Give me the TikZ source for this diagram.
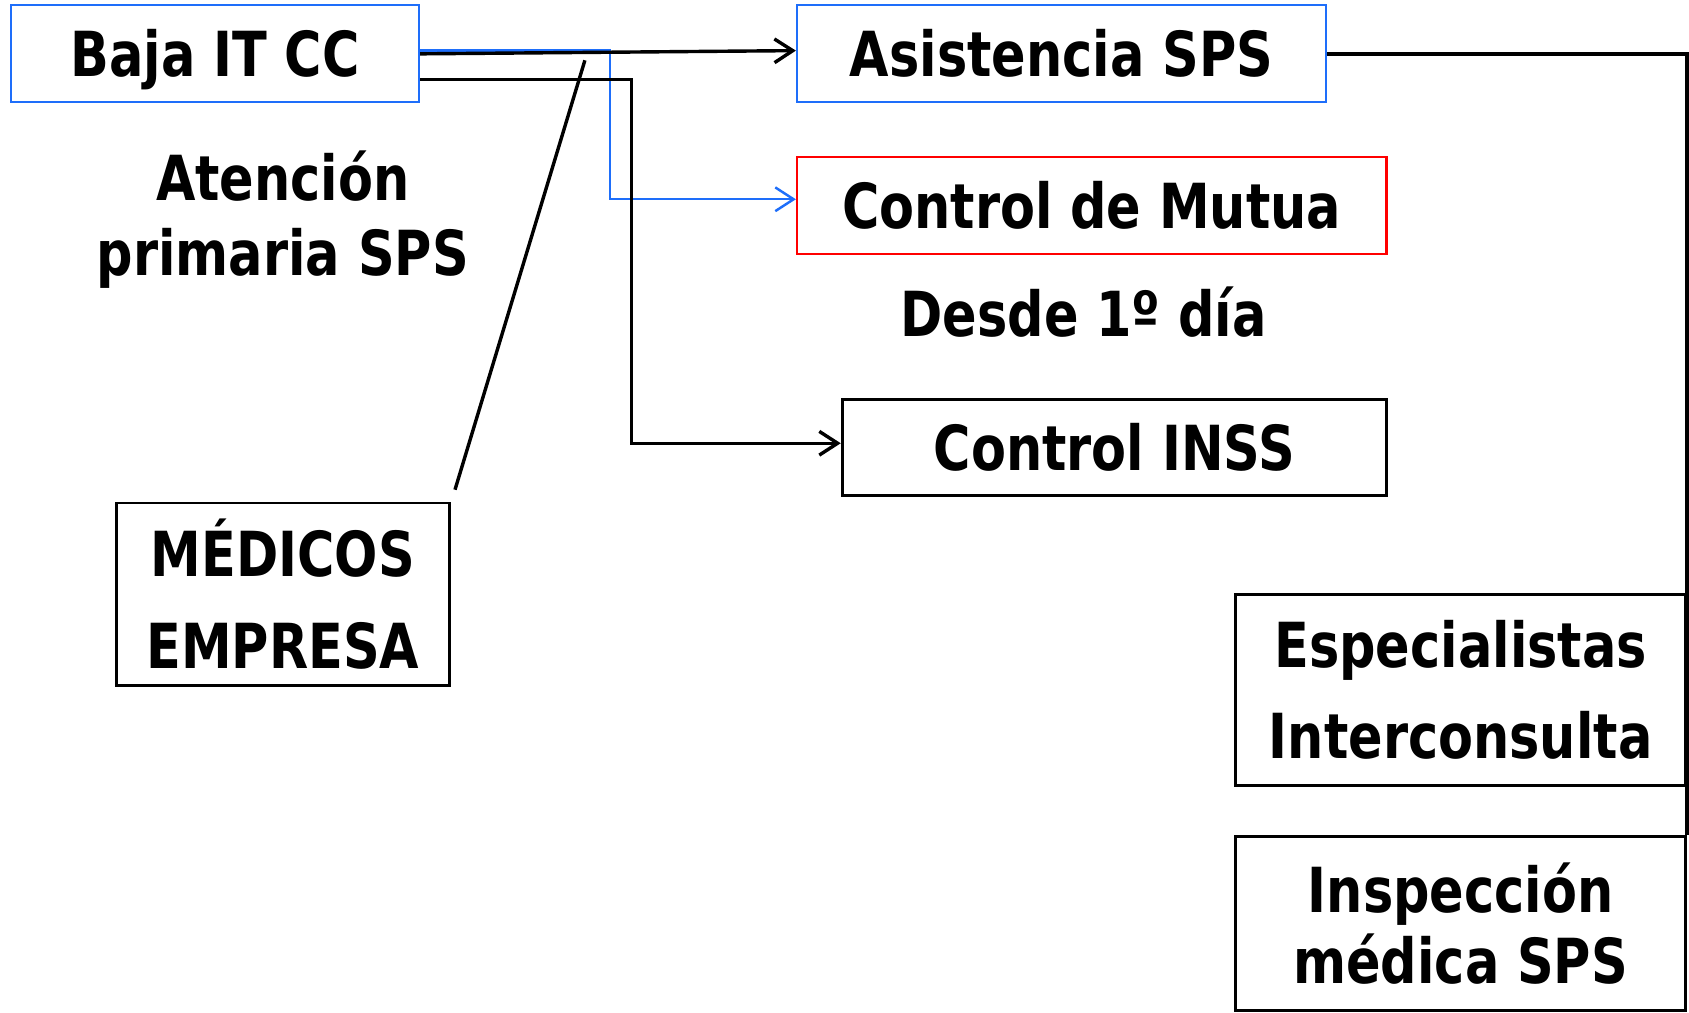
\documentclass[tikz,border=0pt]{standalone}
\usepackage{fontspec}
\newfontfamily\tf{DejaVu Sans}[FakeStretch=0.82]
\usetikzlibrary{arrows.meta,calc}
\definecolor{boxblue}{RGB}{30,110,250}
\definecolor{boxred}{RGB}{255,0,0}
\begin{document}
\begin{tikzpicture}[x=0.01cm,y=-0.01cm,
  txt/.style={font=\tf\bfseries\fontsize{16.4pt}{20pt}\selectfont, inner sep=0pt, align=center, text=black},
  one/.style={txt, text height=12pt, text depth=0pt},
  bluebox/.style={draw=boxblue, line width=0.55pt},
  redbox/.style={draw=boxred, line width=0.55pt},
  blackbox/.style={draw=black, line width=0.75pt},
  conn/.style={draw=black, line width=0.9pt},
  bconn/.style={draw=boxblue, line width=0.65pt},
  tip/.style={-{Straight Barb[length=1.7mm,width=2.2mm]}},
]
\useasboundingbox (0,0) rectangle (1568,940);
\node[one,bluebox,minimum width=3.79cm,minimum height=0.90cm] (baja) at (199.5,50) {Baja IT CC};
\node[one,bluebox,minimum width=4.91cm,minimum height=0.90cm] (asis) at (985.5,50) {Asistencia SPS};
\node[one,redbox,minimum width=5.47cm,minimum height=0.90cm] (mutua) at (1013.5,191) {Control de Mutua};
\node[one] (desde) at (1006,291) {Desde 1º día};
\node[one,blackbox,minimum width=5.05cm,minimum height=0.89cm] (inss) at (1034.5,415.5) {Control INSS};
\node[txt] (aten) at (262.5,204) {Atención\\primaria SPS};
\node[txt,blackbox,minimum width=3.09cm,minimum height=1.69cm] (medicos) at (262.5,551.5) {MÉDICOS\\[4.5pt]EMPRESA};
\node[txt,blackbox,minimum width=4.18cm,minimum height=1.77cm] (espec) at (1356,640.5) {Especialistas\\[4.2pt]Interconsulta};
\node[txt,blackbox,minimum width=4.18cm,minimum height=1.61cm] (inspec) at (1356,857.5) {Inspección\\[-1.2pt]médica SPS};
\draw[bconn,tip] ($(baja.east)+(0,-3)$) -- ++(176,0) |- ($(mutua.west)+(0,-6)$);
\draw[conn,tip] (baja.east) -- ($(asis.west)+(0,-3)$);
\draw[conn,tip] ($(baja.east)+(0,24)$) -- ++(196,0) |- ($(inss.west)+(0,-4)$);
\coordinate (dtop) at (543,56);
\coordinate (dbot) at ($(medicos.north east)+(4,-11)$);
\draw[conn] (dtop) -- (dbot);
\draw[conn,line width=1.2pt] (asis.east) -| (inspec.north east);
\end{tikzpicture}
\end{document}
